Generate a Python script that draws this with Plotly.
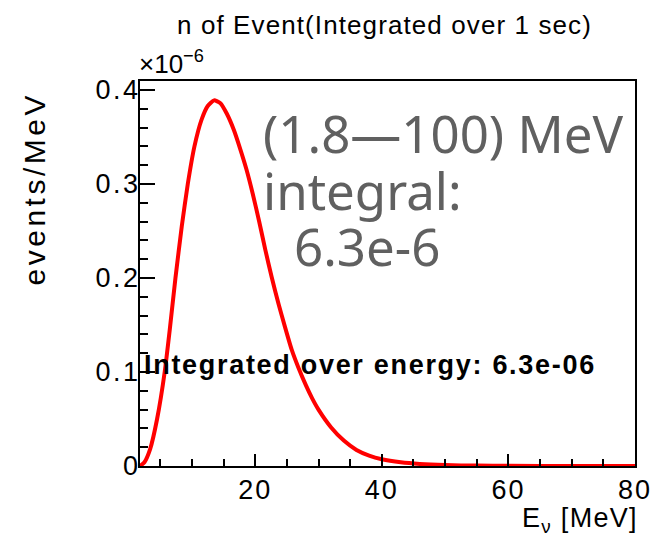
import plotly.graph_objects as go

# Data (values in units of 1e-6 events/MeV)
energy = [1.8, 2.5, 3.4, 4.5, 5.7, 6.5, 7.4, 8.4, 9.35, 10.4, 11.5, 12.5, 13.5,
          14.5, 15.5, 16.6, 17.6, 18.6, 19.6, 20.6, 21.6, 22.6, 23.7, 24.7,
          25.75, 26.8, 28.0, 29.0, 30.0, 32.0, 34.0, 36.0, 38.0, 40.0, 43.0,
          46.0, 50.0, 55.0, 60.0, 70.0, 80.0]
rate = [0.0, 0.004, 0.018, 0.050, 0.100, 0.145, 0.200, 0.255, 0.300, 0.340,
        0.368, 0.383, 0.389, 0.386, 0.375, 0.358, 0.338, 0.316, 0.290, 0.261,
        0.230, 0.201, 0.172, 0.148, 0.124, 0.105, 0.086, 0.072, 0.060, 0.041,
        0.027, 0.017, 0.011, 0.0072, 0.0040, 0.0022, 0.0010, 0.0004, 0.0002,
        0.00003, 0.0]

x_ticks = [20, 40, 60, 80]
x_ticktext = ["20", "40", "60", "80"]
y_ticks = [0, 0.1, 0.2, 0.3, 0.4]
y_ticktext = ["0", "0.1", "0.2", "0.3", "0.4"]

title_text = "n of Event(Integrated over 1 sec)"
xlabel = "E<sub>ν</sub> [MeV]"
ylabel = "events/MeV"
range_lines = ["(1.8—100) MeV", "integral:", "6.3e-6"]
integ_text = "Integrated over energy: 6.3e-06"

W, H = 664, 539
L, R, T, B = 140, 22, 81, 73
PW, PH = W - L - R, H - T - B


def px(xp):
    return (xp - L) / PW


def py(yp):
    return (H - B - yp) / PH


def spaced(text, sp):
    return f'<span style="letter-spacing:{sp}px">{text}</span>'


FONT = "Liberation Sans, Arial, Helvetica, sans-serif"
GRAY_FONT = "Noto Sans, Open Sans, sans-serif"

fig = go.Figure()
fig.add_trace(go.Scatter(
    x=energy, y=rate, mode="lines",
    line=dict(color="#ff0000", width=4, shape="spline", smoothing=0.5),
    hoverinfo="skip", showlegend=False,
))

axis_common = dict(
    showline=True, linecolor="black", linewidth=2, mirror=True,
    ticks="inside", tickcolor="black", tickwidth=2,
    showgrid=False, zeroline=False,
    tickfont=dict(family=FONT, size=27, color="black"),
)

fig.update_xaxes(
    range=[1.8, 80], tickmode="array", tickvals=x_ticks,
    ticktext=[spaced(t, 2) for t in x_ticktext],
    ticklen=12, ticklabelstandoff=-1,
    minor=dict(ticks="inside", ticklen=7, tickwidth=2, tickcolor="black",
               tickmode="linear", tick0=0, dtick=5, showgrid=False),
    **axis_common,
)
fig.update_yaxes(
    range=[0, 0.4096], tickmode="array", tickvals=y_ticks,
    ticktext=[spaced(t, 2.5) for t in y_ticktext],
    ticklen=15, ticklabelstandoff=-8,
    minor=dict(ticks="inside", ticklen=8, tickwidth=2, tickcolor="black",
               tickmode="linear", tick0=0, dtick=0.02, showgrid=False),
    **axis_common,
)

ann = []
ann.append(dict(text=spaced(title_text, 1.1), x=px(388), y=py(25), xanchor="center",
                yanchor="middle", font=dict(family=FONT, size=26, color="black")))
ann.append(dict(text="×10<sup>−6</sup>", x=px(138), y=py(63), xanchor="left",
                yanchor="middle", font=dict(family=FONT, size=26, color="black")))
ann.append(dict(text=spaced(ylabel, 3.5), x=px(33), y=py(189), xanchor="center",
                yanchor="middle", textangle=-90,
                font=dict(family=FONT, size=30, color="black")))
ann.append(dict(text=spaced(xlabel, 1.3), x=px(646), y=py(520), xanchor="right",
                yanchor="middle", font=dict(family=FONT, size=27, color="black")))
ann.append(dict(text=range_lines[0], x=px(264), y=py(133), xanchor="left",
                yanchor="middle", font=dict(family=GRAY_FONT, size=51, color="#606060")))
ann.append(dict(text=range_lines[1], x=px(264), y=py(190), xanchor="left",
                yanchor="middle", font=dict(family=GRAY_FONT, size=51, color="#606060")))
ann.append(dict(text=range_lines[2], x=px(295), y=py(246), xanchor="left",
                yanchor="middle", font=dict(family=GRAY_FONT, size=51, color="#606060")))
ann.append(dict(text="<b>" + spaced(integ_text, 1.7) + "</b>", x=px(143), y=py(365),
                xanchor="left", yanchor="middle",
                font=dict(family=FONT, size=27, color="black")))

for a in ann:
    a.update(xref="paper", yref="paper", showarrow=False, borderpad=0)

fig.update_layout(
    width=W, height=H, autosize=False,
    margin=dict(l=L, r=R, t=T, b=B, pad=0),
    paper_bgcolor="white", plot_bgcolor="white",
    annotations=ann, showlegend=False,
)

fig.write_html("out.html", include_plotlyjs=True, config={"displayModeBar": False})
